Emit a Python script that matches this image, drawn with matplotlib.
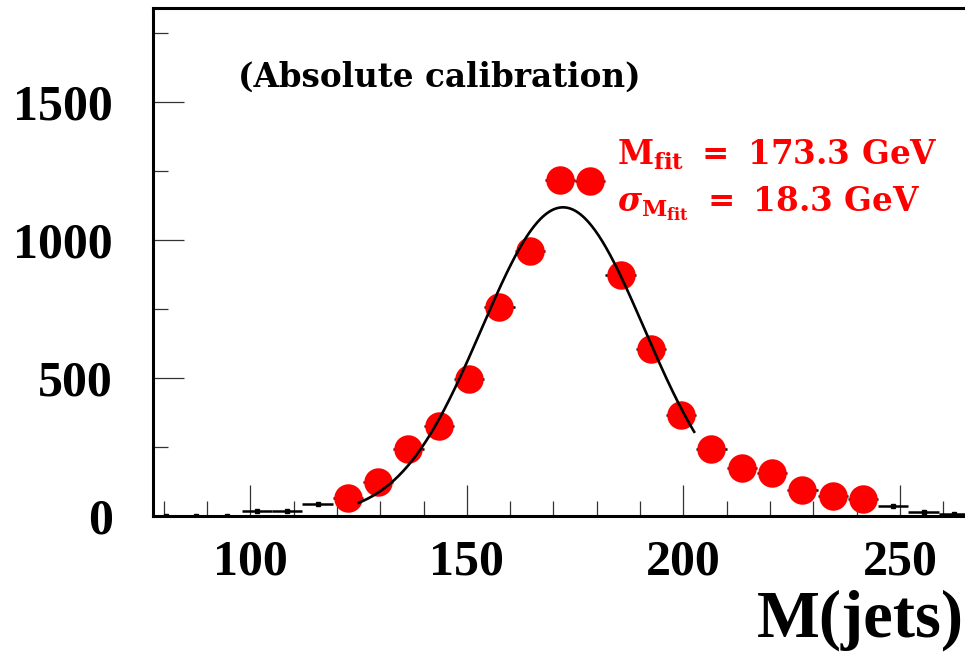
import numpy as np
import matplotlib
matplotlib.use("Agg")
import matplotlib.pyplot as plt
from matplotlib.ticker import MultipleLocator

plt.rcParams['mathtext.fontset'] = 'custom'
plt.rcParams['mathtext.rm'] = 'DejaVu Serif:bold'
plt.rcParams['mathtext.bf'] = 'DejaVu Serif:bold'
plt.rcParams['mathtext.it'] = 'DejaVu Serif:bold'
plt.rcParams['mathtext.bfit'] = 'DejaVu Serif:italic:bold'

# ---- data ----
bin_width = 7.0
bin_centers = [80.5, 87.5, 94.5, 101.5, 108.5, 115.5, 122.5, 129.5, 136.5, 143.5,
               150.5, 157.5, 164.5, 171.5, 178.5, 185.5, 192.5, 199.5, 206.5,
               213.5, 220.5, 227.5, 234.5, 241.5, 248.5, 255.5, 262.5]
counts = [0, 0, 0, 18, 18, 43, 64, 122, 242, 326,
          495, 756, 960, 1217, 1214, 873, 604, 366, 241,
          173, 154, 93, 74, 61, 36, 15, 7]
red_first, red_last = 6, 23  # indices of bins drawn as big red dots

fit_amp = 1118.0
fit_mean = 172.2
fit_sigma = 18.8
fit_range = (125.0, 202.5)

annot_title = '(Absolute calibration)'
annot_mfit = r'$\mathbf{M_{fit}}\ =\ \mathbf{173.3\ GeV}$'
annot_sigma = r'$\boldsymbol{\sigma}_{\mathbf{M_{fit}}}\ =\ \mathbf{18.3\ GeV}$'
xlabel = 'M(jets)'

# ---- figure ----
fig = plt.figure(figsize=(9.65, 6.55), dpi=100)
ax = fig.add_axes([153/965, 1 - 516/655, 1 - 153/965 + 0.002, (516 - 8)/655])

x = np.array(bin_centers)
y = np.array(counts)

ax.errorbar(x, y, xerr=bin_width/2, fmt='s', color='black', ms=2.5,
            elinewidth=1.8, capsize=0, zorder=3)
ax.plot(x[red_first:red_last+1], y[red_first:red_last+1], 'o', color='#ff0000',
        ms=20.5, mec='none', zorder=4)

xf = np.linspace(fit_range[0], fit_range[1], 300)
yf = fit_amp * np.exp(-0.5 * ((xf - fit_mean) / fit_sigma) ** 2)
ax.plot(xf, yf, color='black', lw=1.9, zorder=5)

ax.set_xlim(77.5, 265.5)
ax.set_ylim(0, 1840)

ax.xaxis.set_major_locator(MultipleLocator(50))
ax.xaxis.set_minor_locator(MultipleLocator(10))
ax.yaxis.set_major_locator(MultipleLocator(500))
ax.yaxis.set_minor_locator(MultipleLocator(250))

for s in ['left', 'bottom', 'top']:
    ax.spines[s].set_linewidth(2.2)
ax.spines['right'].set_visible(False)

ax.tick_params(which='major', direction='in', length=22, width=0.9, color='#333333')
ax.tick_params(which='minor', direction='in', length=11, width=0.9, color='#333333')
ax.tick_params(axis='y', which='both', right=False)
ax.tick_params(axis='x', which='both', top=False)
ax.tick_params(axis='y', which='major', pad=29)
ax.tick_params(axis='x', which='major', pad=17)

for lab in ax.get_xticklabels() + ax.get_yticklabels():
    lab.set_fontfamily('Liberation Serif')
    lab.set_fontweight('bold')
    lab.set_fontsize(36)

fig.text(964/965, 1 - 637/655, xlabel, ha='right', va='baseline',
         fontfamily='Liberation Serif', fontweight='bold', fontsize=48)

fig.text(238/965, 1 - 77/655, annot_title, ha='left', va='center',
         fontfamily='DejaVu Serif', fontweight='bold', fontsize=23.5, color='black')
fig.text(617/965, 1 - 165/655, annot_mfit, ha='left', va='baseline',
         fontsize=23.5, color='#ff0000')
fig.text(617/965, 1 - 212/655, annot_sigma, ha='left', va='baseline',
         fontsize=23.5, color='#ff0000')

fig.savefig('out.png', dpi=100)
